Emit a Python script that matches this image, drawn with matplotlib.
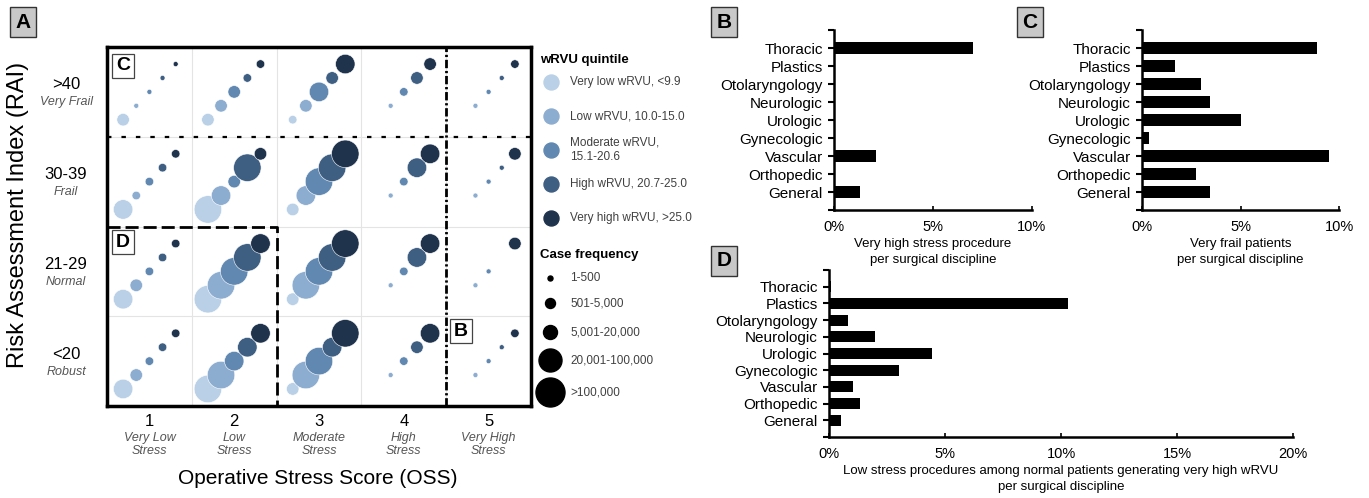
import numpy as np
import matplotlib.pyplot as plt

plt.rcParams['font.family'] = ['Liberation Sans', 'DejaVu Sans']

W, H = 1369, 498

# ---- panel A data ----
oss_levels = ['1', '2', '3', '4', '5']
oss_names = ['Very Low\nStress', 'Low\nStress', 'Moderate\nStress', 'High\nStress', 'Very High\nStress']
rai_levels = ['<20', '21-29', '30-39', '>40']
rai_names = ['Robust', 'Normal', 'Frail', 'Very Frail']
wrvu_labels = ['Very low wRVU, <9.9', 'Low wRVU, 10.0-15.0', 'Moderate wRVU,\n15.1-20.6',
               'High wRVU, 20.7-25.0', 'Very high wRVU, >25.0']
freq_labels = ['1-500', '501-5,000', '5,001-20,000', '20,001-100,000', '>100,000']

# case frequency class (0..4, -1 = no cases); one list per OSS column,
# inside it one value per wRVU quintile (very low -> very high)
freq_robust = [[3, 2, 1, 1, 1], [4, 4, 3, 3, 3], [2, 4, 4, 3, 4], [-1, 0, 1, 2, 3], [-1, 0, 0, 0, 1]]
freq_normal = [[3, 2, 1, 1, 1], [4, 4, 4, 4, 3], [2, 4, 4, 4, 4], [-1, 0, 1, 3, 3], [-1, 0, 0, -1, 2]]
freq_frail = [[3, 1, 1, 1, 1], [4, 3, 2, 4, 2], [2, 3, 4, 4, 4], [-1, 0, 1, 3, 3], [-1, 0, 0, 0, 2]]
freq_vfrail = [[2, 0, 0, 0, 0], [2, 2, 2, 1, 1], [1, 2, 3, 2, 3], [-1, 0, 1, 2, 2], [-1, 0, 0, 0, 1]]

# ---- bar panels data ----
disciplines = ['Thoracic', 'Plastics', 'Otolaryngology', 'Neurologic', 'Urologic',
               'Gynecologic', 'Vascular', 'Orthopedic', 'General']
very_high_stress = [7.0, 0, 0, 0, 0, 0, 2.1, 0, 1.3]
very_frail = [8.9, 1.7, 3.0, 3.45, 5.05, 0.37, 9.5, 2.75, 3.45]
low_stress_vh_wrvu = [0.07, 10.3, 0.8, 2.0, 4.45, 3.0, 1.02, 1.32, 0.52]

colors = ['#b9d0e7', '#8dadd0', '#6088b0', '#3e5e82', '#1f334d']
cell_diam = [5, 8.5, 12.5, 19.5, 27.5]       # px per frequency class
legend_diam = [5, 10, 14, 23, 29]


def rect(x0, y0, x1, y1):
    return [x0 / W, 1 - y1 / H, (x1 - x0) / W, (y1 - y0) / H]


def px2s(d):
    return (d * 72 / 100) ** 2


fig = plt.figure(figsize=(W / 100, H / 100), dpi=100)

# ================= panel A =================
ax = fig.add_axes(rect(107, 47, 531, 406))
ax.set_xlim(0.5, 5.5)
ax.set_ylim(0.5, 4.5)
for v in [1.5, 2.5, 3.5, 4.5]:
    ax.axvline(v, color='#e4e4e4', lw=0.8, zorder=0)
for v in [1.5, 2.5, 3.5]:
    ax.axhline(v, color='#e4e4e4', lw=0.8, zorder=0)

rows = [freq_robust, freq_normal, freq_frail, freq_vfrail]
for k in range(5):
    xs, ys, ss = [], [], []
    for r, row in enumerate(rows, start=1):
        for c, cls in enumerate(row, start=1):
            if cls[k] < 0:
                continue
            xs.append(c - 0.5 + 0.19 + 0.155 * k)
            ys.append(r - 0.5 + 0.19 + 0.155 * k)
            ss.append(px2s(cell_diam[cls[k]]))
    ax.scatter(xs, ys, s=ss, color=colors[k], edgecolor='white', linewidth=0.4, zorder=3 + k)

for sp in ax.spines.values():
    sp.set_linewidth(2.5)
ax.set_xticks([])
ax.set_yticks([])

# highlight lines
ax.plot([0.5, 5.5], [3.5, 3.5], color='black', lw=1.6, ls=(0, (2, 4.5)), zorder=10, clip_on=False)
ax.plot([4.5, 4.5], [0.5, 4.5], color='black', lw=2, ls=(0, (3, 1, 0.8, 1)), zorder=10, clip_on=False)
ax.plot([0.5, 2.5, 2.5], [2.5, 2.5, 0.5], color='black', lw=2, ls=(0, (4.7, 1.8)), zorder=10, clip_on=False)

xt = ax.get_xaxis_transform()
for i, (lev, name) in enumerate(zip(oss_levels, oss_names)):
    ax.annotate(lev, xy=(i + 1, 0), xycoords=xt, xytext=(0, -11), textcoords='offset points',
                ha='center', va='center', fontsize=12)
    ax.annotate(name, xy=(i + 1, 0), xycoords=xt, xytext=(0, -28), textcoords='offset points',
                ha='center', va='center', fontsize=9, style='italic', color='#555555',
                linespacing=1.1)
yt = ax.get_yaxis_transform()
for i, (lev, name) in enumerate(zip(rai_levels, rai_names)):
    ax.annotate(lev, xy=(0, i + 1), xycoords=yt, xytext=(-29.5, 5), textcoords='offset points',
                ha='center', va='center', fontsize=12)
    ax.annotate(name, xy=(0, i + 1), xycoords=yt, xytext=(-29.5, -7.5), textcoords='offset points',
                ha='center', va='center', fontsize=9, style='italic', color='#555555')

fig.text(318 / W, 1 - 478 / H, 'Operative Stress Score (OSS)', ha='center', va='center', fontsize=15)
fig.text(18 / W, 1 - 215 / H, 'Risk Assessment Index (RAI)', ha='center', va='center',
         fontsize=17, rotation=90)

# inner labels
for lab, (cx, cy) in zip(['C', 'D', 'B'], [(123, 66), (123, 242), (461, 331)]):
    fig.text(cx / W, 1 - cy / H, lab, ha='center', va='center', fontsize=14, fontweight='bold',
             zorder=20, bbox=dict(boxstyle='square,pad=0.2', fc='white', ec='#444444', lw=0.9))

# ================= legend =================
lg = fig.add_axes(rect(535, 40, 705, 410))
lg.set_xlim(535, 705)
lg.set_ylim(410, 40)
lg.axis('off')
lg.text(540, 60, 'wRVU quintile', fontweight='bold', fontsize=9.5, ha='left', va='center')
for i, lab in enumerate(wrvu_labels):
    y = 82 + i * 34
    lg.scatter([551], [y], s=px2s(15), color=colors[i], clip_on=False)
    lg.text(570, y, lab, fontsize=8.5, color='#404040', ha='left', va='center', linespacing=1.3)
lg.text(540, 255, 'Case frequency', fontweight='bold', fontsize=9.5, ha='left', va='center')
for lab, d, y in zip(freq_labels, legend_diam, [278, 303, 332, 360, 392]):
    lg.scatter([550], [y], s=px2s(d), color='black', clip_on=False)
    lg.text(570, y, lab, fontsize=8.5, color='#404040', ha='left', va='center')


# ================= bar panels =================
def bar_panel(r, values, xmax, xlabel):
    b = fig.add_axes(r)
    y = np.arange(len(disciplines))[::-1]
    b.barh(y, values, height=0.65, color='black')
    b.set_xlim(0, xmax)
    b.set_ylim(-1, len(disciplines))
    b.set_yticks(np.arange(-1, len(disciplines) + 1))
    b.set_yticklabels([''] + disciplines[::-1] + [''], fontsize=11)
    b.set_xticks(np.arange(0, xmax + 1, 5))
    b.set_xticklabels(['%d%%' % v for v in np.arange(0, xmax + 1, 5)], fontsize=10.5)
    b.spines['top'].set_visible(False)
    b.spines['right'].set_visible(False)
    b.spines['left'].set_linewidth(1.8)
    b.spines['bottom'].set_linewidth(1.8)
    b.tick_params(axis='y', direction='out', length=4, width=1.5, pad=4)
    b.tick_params(axis='x', direction='in', length=3, width=1.2, pad=7)
    b.set_xlabel(xlabel, fontsize=9.5, labelpad=3, linespacing=1.45)
    return b


bar_panel(rect(834, 30, 1032, 210), very_high_stress, 10,
          'Very high stress procedure\nper surgical discipline')
bar_panel(rect(1142, 30, 1339, 210), very_frail, 10,
          'Very frail patients\nper surgical discipline')
bar_panel(rect(829, 270, 1293, 437), low_stress_vh_wrvu, 20,
          'Low stress procedures among normal patients generating very high wRVU\nper surgical discipline')

# panel letters
for lab, (cx, cy) in zip(['A', 'B', 'C', 'D'], [(23, 22), (724, 22), (1030, 22), (724, 261)]):
    fig.text(cx / W, 1 - cy / H, lab, ha='center', va='center', fontsize=15, fontweight='bold',
             bbox=dict(boxstyle='square,pad=0.25', fc='#c8c8c8', ec='#333333', lw=1))

fig.savefig('out.png', dpi=100)
